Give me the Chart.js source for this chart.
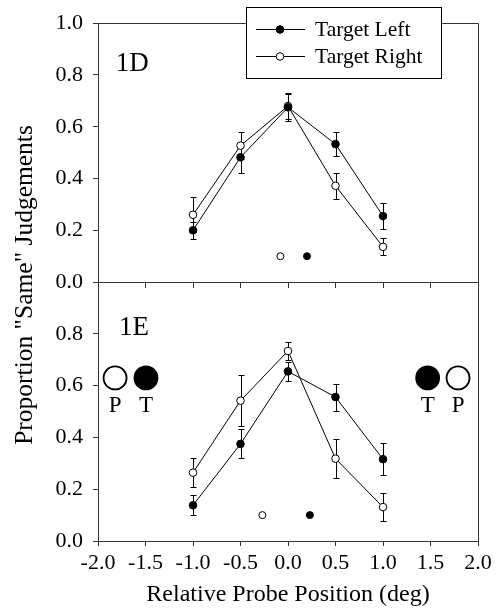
<!DOCTYPE html>
<html>
<head>
<meta charset="utf-8">
<script src="https://cdn.jsdelivr.net/npm/chart.js@4.4.1/dist/chart.umd.min.js"></script>
<style>
  html, body { margin: 0; padding: 0; background: #fff; }
  #wrap { width: 499px; height: 611px; position: relative; }
</style>
</head>
<body>
<div id="wrap"><canvas id="c" width="499" height="611"></canvas></div>
<script>
// ---- data ----
const xPositions = [-1.0, -0.5, 0.0, 0.5, 1.0];

const d1D_left      = [0.200, 0.482, 0.675, 0.533, 0.255];
const d1D_leftErr   = [0.034, 0.060, 0.052, 0.045, 0.050];
const d1D_right     = [0.260, 0.527, 0.680, 0.372, 0.136];
const d1D_rightErr  = [0.068, 0.053, 0.050, 0.050, 0.033];

const d1E_left      = [0.138, 0.375, 0.655, 0.556, 0.316];
const d1E_leftErr   = [0.038, 0.056, 0.037, 0.052, 0.063];
const d1E_right     = [0.264, 0.542, 0.734, 0.318, 0.131];
const d1E_rightErr  = [0.056, 0.098, 0.035, 0.076, 0.054];

// small probe/target markers near the bottom of each panel
const probe1D_x = [-0.08, 0.20];
const probe1D_y = [0.10, 0.10];
const probe1D_filled = [false, true];
const probe1E_x = [-0.27, 0.23];
const probe1E_y = [0.10, 0.10];
const probe1E_filled = [false, true];

// large P / T stimulus icons in panel 1E
const icon_x      = [-1.82, -1.495, 1.47, 1.79];
const icon_y      = [0.63, 0.63, 0.63, 0.63];
const icon_filled = [false, true, true, false];
const icon_labels = ['P', 'T', 'T', 'P'];

const seriesNames = ['Target Left', 'Target Right'];
const panelLabels = ['1D', '1E'];
const panelLabelPos = [{x: -1.64, y: 0.85}, {x: -1.62, y: 0.83}];
const xTitle = 'Relative Probe Position (deg)';
const yTitle = 'Proportion "Same" Judgements';

// ---- helpers ----
const FONT = "'Liberation Serif', 'Times New Roman', serif";
const pts = (xs, ys) => xs.map((x, i) => ({x: x, y: ys[i]}));

function seriesDS(ys, errs, filled, yAxis) {
  return {
    data: pts(xPositions, ys),
    errors: errs,
    yAxisID: yAxis,
    xAxisID: 'x',
    showLine: true,
    borderColor: '#000',
    borderWidth: 1,
    tension: 0,
    pointRadius: 3.8,
    pointHoverRadius: 3.8,
    pointBorderWidth: 1,
    pointBorderColor: '#000',
    pointBackgroundColor: filled ? '#000' : '#fff'
  };
}
function markerDS(xs, ys, filled, yAxis, r, bw) {
  return {
    data: pts(xs, ys),
    yAxisID: yAxis,
    xAxisID: 'x',
    showLine: false,
    pointRadius: r,
    pointHoverRadius: r,
    pointBorderWidth: bw,
    pointBorderColor: '#000',
    pointBackgroundColor: filled.map(f => f ? '#000' : '#fff')
  };
}

const errorBars = {
  id: 'errorBars',
  beforeDatasetsDraw(chart) {
    const ctx = chart.ctx;
    chart.data.datasets.forEach((ds, i) => {
      if (!ds.errors) return;
      const meta = chart.getDatasetMeta(i);
      const ys = chart.scales[ds.yAxisID];
      ctx.save();
      ctx.strokeStyle = '#000';
      ctx.lineWidth = 1;
      meta.data.forEach((pt, j) => {
        const v = ds.data[j].y, e = ds.errors[j];
        const x = Math.round(pt.x) + 0.5;
        const y1 = Math.round(ys.getPixelForValue(v + e)) + 0.5;
        const y2 = Math.round(ys.getPixelForValue(v - e)) + 0.5;
        ctx.beginPath();
        ctx.moveTo(x, y1); ctx.lineTo(x, y2);
        ctx.moveTo(x - 3, y1); ctx.lineTo(x + 3, y1);
        ctx.moveTo(x - 3, y2); ctx.lineTo(x + 3, y2);
        ctx.stroke();
      });
      ctx.restore();
    });
  }
};

const decorations = {
  id: 'decorations',
  afterDraw(chart) {
    const ctx = chart.ctx;
    const a = chart.chartArea;
    const xs = chart.scales.x;
    ctx.save();
    // frame: top and right
    ctx.strokeStyle = '#333';
    ctx.lineWidth = 1;
    ctx.beginPath();
    ctx.moveTo(Math.round(a.left) + 0.5, Math.round(a.top) + 0.5);
    ctx.lineTo(Math.round(a.right) + 0.5, Math.round(a.top) + 0.5);
    ctx.lineTo(Math.round(a.right) + 0.5, Math.round(a.bottom) + 0.5);
    ctx.stroke();

    // panel labels
    ctx.fillStyle = '#000';
    ctx.font = '27px ' + FONT;
    ctx.textAlign = 'center';
    ctx.textBaseline = 'middle';
    const axes = ['yTop', 'yBot'];
    panelLabels.forEach((t, i) => {
      const p = panelLabelPos[i];
      ctx.fillText(t, xs.getPixelForValue(p.x), chart.scales[axes[i]].getPixelForValue(p.y) + 2);
    });

    // P / T letters under icons
    ctx.font = '23px ' + FONT;
    icon_labels.forEach((t, i) => {
      ctx.fillText(t, xs.getPixelForValue(icon_x[i]), chart.scales.yBot.getPixelForValue(icon_y[i]) + 28);
    });

    // y title
    ctx.save();
    ctx.font = '25.5px ' + FONT;
    ctx.translate(25, 285);
    ctx.rotate(-Math.PI / 2);
    ctx.fillText(yTitle, 0, 0);
    ctx.restore();

    // legend
    const lx = 246, ly = 7, lw = 195, lh = 71;
    ctx.fillStyle = '#fff';
    ctx.fillRect(lx, ly, lw, lh);
    ctx.strokeStyle = '#000';
    ctx.strokeRect(lx + 0.5, ly + 0.5, lw, lh);
    const rows = [29, 56];
    const fills = ['#000', '#fff'];
    seriesNames.forEach((name, i) => {
      const y = rows[i] + 0.5;
      ctx.beginPath();
      ctx.moveTo(256, y); ctx.lineTo(305, y);
      ctx.stroke();
      ctx.beginPath();
      ctx.arc(280, y, 3.8, 0, Math.PI * 2);
      ctx.fillStyle = fills[i];
      ctx.fill();
      ctx.stroke();
      ctx.fillStyle = '#000';
      ctx.font = '21.5px ' + FONT;
      ctx.textAlign = 'left';
      ctx.textBaseline = 'middle';
      ctx.fillText(name, 315, rows[i] + 1);
    });
    ctx.restore();
  }
};

const axisColor = '#333';
const tickFont = {family: FONT, size: 22};

const chart = new Chart(document.getElementById('c'), {
  type: 'line',
  data: {
    datasets: [
      seriesDS(d1D_left, d1D_leftErr, true, 'yTop'),
      seriesDS(d1D_right, d1D_rightErr, false, 'yTop'),
      seriesDS(d1E_left, d1E_leftErr, true, 'yBot'),
      seriesDS(d1E_right, d1E_rightErr, false, 'yBot'),
      markerDS(probe1D_x, probe1D_y, probe1D_filled, 'yTop', 3.5, 1),
      markerDS(probe1E_x, probe1E_y, probe1E_filled, 'yBot', 3.5, 1),
      markerDS(icon_x, icon_y, icon_filled, 'yBot', 11.5, 1.8)
    ]
  },
  options: {
    responsive: false,
    animation: false,
    events: [],
    layout: { padding: { top: 12, right: 21, left: 0, bottom: 0 } },
    plugins: { legend: { display: false }, tooltip: { enabled: false } },
    scales: {
      x: {
        type: 'linear', position: 'bottom', min: -2, max: 2,
        ticks: { stepSize: 0.5, color: '#000', font: tickFont, padding: 4,
                 maxRotation: 0, autoSkip: false, callback: v => v.toFixed(1) },
        grid: { drawOnChartArea: false, tickLength: 5, color: axisColor },
        border: { color: axisColor },
        title: { display: true, text: xTitle, color: '#000',
                 font: {family: FONT, size: 24}, padding: {top: 0, bottom: 2} },
        afterFit: s => { s.height = 70; }
      },
      xMid: {
        type: 'linear', position: { yTop: 0 }, min: -2, max: 2,
        ticks: { display: false, stepSize: 0.5 },
        grid: { drawOnChartArea: false, tickLength: 5, color: axisColor },
        border: { color: axisColor }
      },
      yTop: {
        type: 'linear', position: 'left', stack: 'panels', stackWeight: 1, weight: 2,
        min: 0, max: 1,
        ticks: { stepSize: 0.2, color: '#000', font: tickFont, padding: 10,
                 callback: v => v.toFixed(1) },
        grid: { drawOnChartArea: false, tickLength: 5, color: axisColor },
        border: { color: axisColor },
        afterFit: s => { s.width = 98; }
      },
      yBot: {
        type: 'linear', position: 'left', stack: 'panels', stackWeight: 1, weight: 1,
        min: 0, max: 1,
        ticks: { stepSize: 0.2, color: '#000', font: tickFont, padding: 10,
                 callback: v => (v > 0.9 ? '' : v.toFixed(1)) },
        grid: { drawOnChartArea: false, tickLength: 5, color: axisColor },
        border: { color: axisColor },
        afterFit: s => { s.width = 98; }
      }
    }
  },
  plugins: [errorBars, decorations]
});
</script>
</body>
</html>
